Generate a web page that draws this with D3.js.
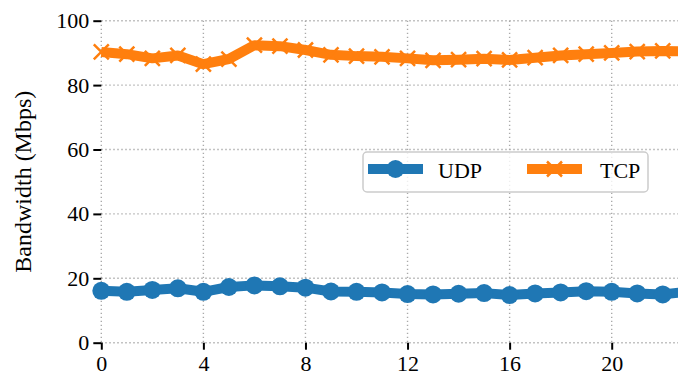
<!DOCTYPE html>
<html>
<head>
<meta charset="utf-8">
<script src="https://cdn.jsdelivr.net/npm/d3@7"></script>
<style>
  html, body { margin: 0; padding: 0; background: #fff; }
  svg { display: block; }
</style>
</head>
<body>
<svg id="chart" width="678" height="383"></svg>
<script>
// Sample index along the x axis
const steps = d3.range(0, 24);
// Measured bandwidth per sample (Mbps)
const udpValues = [16.1, 15.8, 16.4, 16.9, 15.8, 17.3, 17.8, 17.5, 17.1, 15.9, 15.8, 15.6,
                   15.1, 15.0, 15.2, 15.4, 14.8, 15.3, 15.6, 16.0, 15.8, 15.3, 15.0, 15.9];
const tcpValues = [90.3, 89.6, 88.3, 89.2, 86.5, 88.1, 92.4, 92.1, 90.9, 89.4, 89.0, 88.8,
                   88.3, 87.7, 87.9, 88.2, 87.8, 88.5, 89.2, 89.6, 90.0, 90.4, 90.6, 90.5];
const xTicks = [0, 4, 8, 12, 16, 20];
const yTicks = [0, 20, 40, 60, 80, 100];
const seriesNames = ["UDP", "TCP"];

const colors = { UDP: "#1f77b4", TCP: "#ff7f0e" };
const serif = "'Liberation Serif'";

const svg = d3.select("#chart");
const W = 678, H = 383;

const x = d3.scaleLinear().domain([0, 20]).range([101.3, 611.7]);
const y = d3.scaleLinear().domain([0, 100]).range([342.7, 20.7]);

// Dotted grid
const grid = svg.append("g").attr("class", "grid")
  .attr("stroke", "#aaaaaa").attr("stroke-width", 1.4).attr("stroke-dasharray", "1.4,2.6");
grid.selectAll("line.v").data(xTicks).join("line").attr("class", "v")
  .attr("x1", d => x(d)).attr("x2", d => x(d)).attr("y1", y(100)).attr("y2", y(0));
grid.selectAll("line.h").data(yTicks).join("line").attr("class", "h")
  .attr("x1", x(0)).attr("x2", W).attr("y1", d => y(d)).attr("y2", d => y(d));

// Axes (tick marks only, no spines)
const xAxis = d3.axisBottom(x).tickValues(xTicks).tickSize(7).tickPadding(6).tickFormat(d3.format("d"));
const yAxis = d3.axisLeft(y).tickValues(yTicks).tickSize(8).tickPadding(4).tickFormat(d3.format("d"));

const gx = svg.append("g").attr("transform", `translate(0,${y(0)})`).call(xAxis);
const gy = svg.append("g").attr("transform", `translate(${x(0)},0)`).call(yAxis);
[gx, gy].forEach(g => {
  g.attr("font-family", serif).attr("font-size", 22);
  g.select(".domain").remove();
  g.selectAll(".tick line").attr("stroke", "#000").attr("stroke-width", 2);
  g.selectAll(".tick text").style("font-family", serif).style("font-size", "22px").attr("fill", "#000");
});
gx.selectAll(".tick text").attr("dy", "0.71em");

// Y axis title
svg.append("text")
  .attr("transform", `translate(31,${(y(0) + y(100)) / 2}) rotate(-90)`)
  .attr("text-anchor", "middle")
  .style("font-family", serif).style("font-size", "24px")
  .text("Bandwidth (Mbps)");

const line = d3.line().x((d, i) => x(steps[i])).y(d => y(d));

// X-shaped marker path
function crossPath(cx, cy, s) {
  return `M${cx - s},${cy - s}L${cx + s},${cy + s}M${cx - s},${cy + s}L${cx + s},${cy - s}`;
}

// UDP series
svg.append("path").datum(udpValues)
  .attr("fill", "none").attr("stroke", colors.UDP).attr("stroke-width", 10)
  .attr("stroke-linejoin", "round").attr("d", line);
svg.append("g").selectAll("circle").data(udpValues).join("circle")
  .attr("cx", (d, i) => x(steps[i])).attr("cy", d => y(d)).attr("r", 9)
  .attr("fill", colors.UDP);

// TCP series
svg.append("path").datum(tcpValues)
  .attr("fill", "none").attr("stroke", colors.TCP).attr("stroke-width", 10)
  .attr("stroke-linejoin", "round").attr("d", line);
svg.append("g").selectAll("path").data(tcpValues).join("path")
  .attr("d", (d, i) => crossPath(x(steps[i]), y(d), 7.5))
  .attr("stroke", colors.TCP).attr("stroke-width", 2.5).attr("stroke-linecap", "butt")
  .attr("fill", "none");

// Legend
const lg = svg.append("g").attr("transform", "translate(363,152)");
lg.append("rect").attr("width", 285).attr("height", 40).attr("rx", 4)
  .attr("fill", "#fff").attr("fill-opacity", 0.8)
  .attr("stroke", "#cccccc").attr("stroke-width", 1.5);
const items = [
  { name: seriesNames[0], x0: 5, tx: 75 },
  { name: seriesNames[1], x0: 164, tx: 237 }
];
items.forEach(it => {
  const g = lg.append("g").attr("transform", `translate(${it.x0},17)`);
  g.append("line").attr("x1", 0).attr("x2", 55).attr("y1", 0).attr("y2", 0)
    .attr("stroke", colors[it.name]).attr("stroke-width", 10);
  if (it.name === "UDP") {
    g.append("circle").attr("cx", 27.5).attr("cy", 0).attr("r", 9).attr("fill", colors.UDP);
  } else {
    g.append("path").attr("d", crossPath(27.5, 0, 7.5))
      .attr("stroke", colors.TCP).attr("stroke-width", 2.5);
  }
  lg.append("text").attr("x", it.tx).attr("y", 26)
    .style("font-family", serif).style("font-size", "22px").text(it.name);
});
</script>
</body>
</html>
